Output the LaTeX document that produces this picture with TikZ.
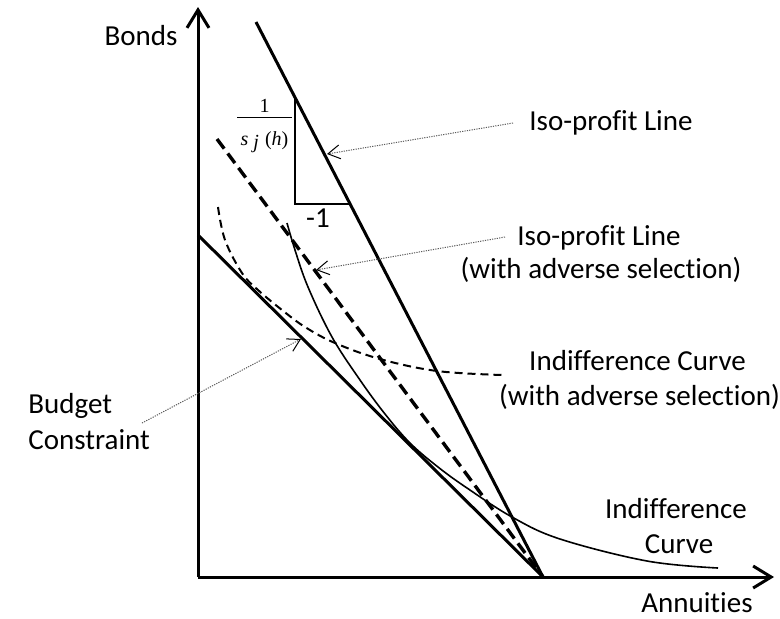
\documentclass[tikz,border=0pt]{standalone}
\usepackage{fontspec}
\setmainfont[Ligatures=NoCommon]{Carlito}
\newfontfamily\tms{Liberation Serif}
\usetikzlibrary{arrows.meta}
\tikzset{
  axis/.style={line width=1.5pt,-{Straight Barb[length=9pt,width=11pt,line width=1.5pt]}},
  thickline/.style={line width=1.5pt},
  thickdash/.style={line width=1.7pt,dash pattern=on 6pt off 3pt},
  thindash/.style={line width=1pt,dash pattern=on 4pt off 2.5pt},
  thincurve/.style={line width=0.8pt},
  leader/.style={line width=0.5pt,gray!70!black,dash pattern=on 0.6pt off 0.6pt,
    -{Straight Barb[length=6pt,width=7pt,line width=0.5pt,black]}},
  lbl/.style={font=\fontsize{14.5}{17.5}\selectfont,inner sep=0pt},
  mth/.style={font=\tms\fontsize{10}{12}\selectfont,inner sep=0pt}
}
\begin{document}
\begin{tikzpicture}[x=0.5pt,y=-0.5pt]
\useasboundingbox (0,0) rectangle (780,618);
% axes
\coordinate (O) at (198,577);
\coordinate (ytop) at (198,7);
\coordinate (xend) at (774,577);
\draw[axis] (O) -- (ytop);
\draw[axis] (O) -- (xend);
% lines
\coordinate (A) at (543,577);
\coordinate (ipTop) at (256,22);
\coordinate (dashTop) at (217,139);
\coordinate (bcTop) at (198,235);
\draw[thickline] (ipTop) -- (A);
\draw[thickdash] (dashTop) -- (A);
\draw[thickline] (bcTop) -- (A);
% slope triangle
\coordinate (t1) at (294.5,97);
\coordinate (t2) at (294.5,204);
\coordinate (t3) at (350,204);
\draw[line width=1pt] (t1) -- (t2) -- (t3);
% indifference curves
\draw[thincurve] plot[smooth,tension=0.6] coordinates {(287,223) (295,250) (308,287) (332,337) (360,380) (385,414) (410,443) (438,467) (467,488) (512,517) (560,539) (647,561) (718,568)};
\draw[thindash] plot[smooth,tension=0.6] coordinates {(218,207) (225,240) (242,273) (258,290) (282,310) (305,327) (335,343) (380,359) (437,371) (502,375)};
% labels
\node[lbl,anchor=base] (bonds) at (141,45) {Bonds};
\node[lbl,anchor=base] (annu) at (697,612) {Annuities};
\node[lbl,anchor=base] (m1) at (318,227) {-1};
\node[lbl,anchor=base] (ip1) at (611,130) {Iso-profit Line};
\node[lbl,anchor=base] (ip2a) at (599,245) {Iso-profit Line};
\node[lbl,anchor=base] (ip2b) at (601,278) {(with adverse selection)};
\node[lbl,anchor=base] (ica) at (637.5,370) {Indifference Curve};
\node[lbl,anchor=base] (icb) at (639.5,405) {(with adverse selection)};
\node[lbl,anchor=base west] (bc1) at (28,413) {Budget};
\node[lbl,anchor=base west] (bc2) at (28,449) {Constraint};
\node[lbl,anchor=base] (ic1) at (676,518) {Indifference};
\node[lbl,anchor=base] (ic2) at (679,553) {Curve};
% fraction
\node[mth,anchor=base] (fnum) at (264.5,112) {1};
\coordinate (fb1) at (237,117);
\coordinate (fb2) at (292,117);
\draw[line width=0.5pt] (fb1) -- (fb2);
\node[mth,anchor=base] (fden) at (264.5,145)
  {\itshape s\hspace{2.5pt}\lower1.5pt\hbox{j}\hspace{3pt}\upshape(\itshape h\upshape)};
% leaders
\coordinate (l1s) at (513,123);
\coordinate (l1e) at (327,154);
\coordinate (l2s) at (505,237);
\coordinate (l2e) at (316,270);
\coordinate (l3s) at (142,423);
\coordinate (l3e) at (301,339);
\draw[leader] (l1s) -- (l1e);
\draw[leader] (l2s) -- (l2e);
\draw[leader] (l3s) -- (l3e);
\end{tikzpicture}
\end{document}
